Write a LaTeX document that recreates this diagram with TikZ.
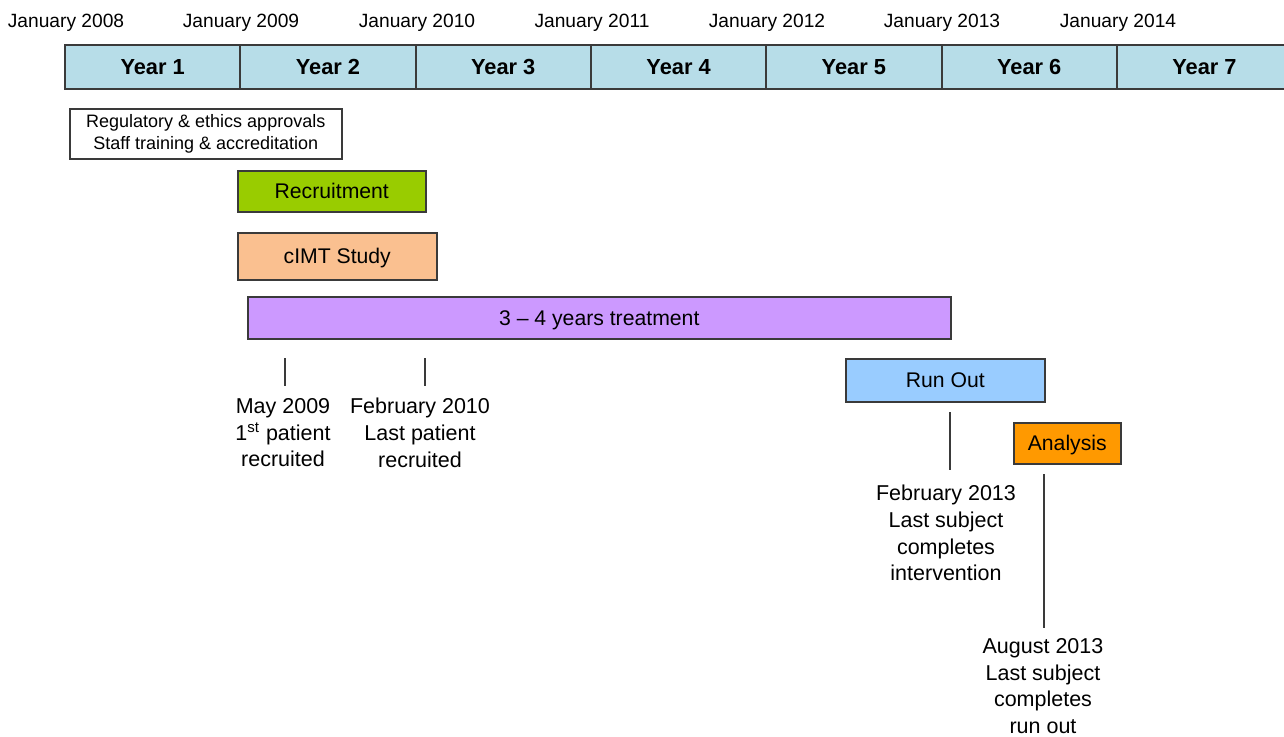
\documentclass[tikz,border=0pt]{standalone}
\usepackage{fontspec}
\setmainfont{Liberation Sans}
\definecolor{yearfill}{HTML}{B7DDE8}
\definecolor{recrfill}{HTML}{99CC00}
\definecolor{cimtfill}{HTML}{FAC090}
\definecolor{treatfill}{HTML}{CC99FF}
\definecolor{runfill}{HTML}{99CCFF}
\definecolor{anafill}{HTML}{FF9900}
\definecolor{edge}{HTML}{3A3A3A}
\begin{document}
\begin{tikzpicture}[x=0.5pt,y=-0.5pt,
  yearcell/.style={draw=edge, line width=1pt, fill=yearfill, minimum width=87.65pt, minimum height=22pt, inner sep=0pt, anchor=north west, text depth=0pt, font=\fontsize{10.9}{12}\selectfont\bfseries},
  datelab/.style={anchor=base, inner sep=0pt, font=\fontsize{9.6}{11}\selectfont},
  phase/.style={draw=edge, line width=0.75pt, inner sep=0pt, anchor=north west, font=\fontsize{10.6}{12}\selectfont},
  single/.style={text depth=0pt},
  milestone/.style={anchor=north, inner sep=0pt, align=center, font=\fontsize{10.75}{13.3}\selectfont},
  tick/.style={draw=edge, line width=0.75pt}]
\useasboundingbox (0,0) rectangle (1284,736);
\clip (0,0) rectangle (1284,736);
% dates
\node[datelab] (d08) at (66,27) {January 2008};
\node[datelab] (d09) at (241,27) {January 2009};
\node[datelab] (d10) at (417,27) {January 2010};
\node[datelab] (d11) at (592,27) {January 2011};
\node[datelab] (d12) at (767,27) {January 2012};
\node[datelab] (d13) at (942,27) {January 2013};
\node[datelab] (d14) at (1118,27) {January 2014};
% years
\node[yearcell] (y1) at (64,44) {Year 1};
\node[yearcell] (y2) at (239.3,44) {Year 2};
\node[yearcell] (y3) at (414.6,44) {Year 3};
\node[yearcell] (y4) at (589.9,44) {Year 4};
\node[yearcell] (y5) at (765.2,44) {Year 5};
\node[yearcell] (y6) at (940.5,44) {Year 6};
\node[yearcell] (y7) at (1115.8,44) {Year 7};
% phases
\node[phase, fill=white, minimum width=136pt, minimum height=25pt, align=center, font=\fontsize{9}{11}\selectfont] (reg) at (69,108) {Regulatory \& ethics approvals\\Staff training \& accreditation};
\node[phase, single, fill=recrfill, minimum width=94pt, minimum height=20.5pt] (recr) at (237,170) {Recruitment};
\node[phase, single, fill=cimtfill, minimum width=99.5pt, minimum height=23.5pt] (cimt) at (237,232) {cIMT Study};
\node[phase, single, fill=treatfill, minimum width=351.5pt, minimum height=21pt] (treat) at (247,296) {3 -- 4 years treatment};
\node[phase, single, fill=runfill, minimum width=99.5pt, minimum height=21.5pt] (runout) at (845,358) {Run Out};
\node[phase, single, fill=anafill, minimum width=53.5pt, minimum height=20.5pt] (ana) at (1013,422) {Analysis};
% milestones
\node[milestone] (m1) at (283,398) {May 2009\\1\textsuperscript{st} patient\\recruited};
\node[milestone] (m2) at (420,398) {February 2010\\Last patient\\recruited};
\node[milestone] (m3) at (946,485) {February 2013\\Last subject\\completes\\intervention};
\node[milestone] (m4) at (1043,638) {August 2013\\Last subject\\completes\\run out};
% ticks
\coordinate (t1a) at (285,358); \coordinate (t1b) at (285,386);
\coordinate (t2a) at (425,358); \coordinate (t2b) at (425,386);
\coordinate (t3a) at (950,412); \coordinate (t3b) at (950,470);
\coordinate (t4a) at (1044,474); \coordinate (t4b) at (1044,628);
\draw[tick] (t1a) -- (t1b);
\draw[tick] (t2a) -- (t2b);
\draw[tick] (t3a) -- (t3b);
\draw[tick] (t4a) -- (t4b);
\end{tikzpicture}
\end{document}
